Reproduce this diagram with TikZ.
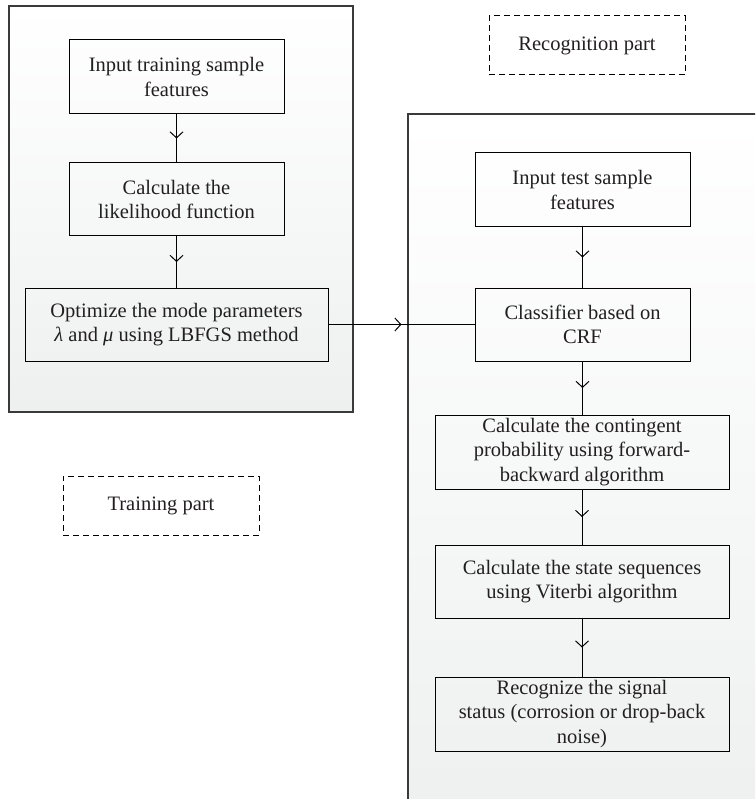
\documentclass[tikz,border=0pt]{standalone}
\usepackage{fontspec}
\setmainfont{Liberation Serif}
\usetikzlibrary{arrows.meta,decorations.markings}
\definecolor{txt}{HTML}{231F20}
\definecolor{frame}{HTML}{3A3A3A}
\definecolor{shade}{HTML}{EEF0F0}
\tikzset{
  stepbox/.style={draw=black,line width=1pt,rectangle,align=center,text=txt,inner sep=2pt,
    font=\fontsize{20.5}{24.5}\selectfont},
  partbox/.style={draw=black,line width=1pt,dash pattern=on 6pt off 4pt,rectangle,align=center,
    text=txt,minimum width=196pt,minimum height=59pt,font=\fontsize{20.5}{24.5}\selectfont},
  flow/.style={draw=black,line width=1pt,postaction={decorate},
    decoration={markings,mark=at position 0.5 with {\arrow{Straight Barb[length=6pt,width=13pt,line width=1pt]}}}},
  panel/.style={draw=frame,line width=1.1pt,top color=white,bottom color=shade}
}
\begin{document}
\begin{tikzpicture}[x=1pt,y=-1pt]
\useasboundingbox (0,0) rectangle (755,799);
\clip (0,0) rectangle (755,799);
% panels
\path[panel] (9,6) rectangle (353,412);
\path[panel] (408,114) rectangle (780,830);
% part labels
\node[partbox] (rec) at (587,45.5) {Recognition part};
\node[partbox] (trn) at (161,505.5) {Training part};
% training steps
\node[stepbox,minimum width=215pt,minimum height=74pt] (t1) at (176.5,77) {Input training sample\\features};
\node[stepbox,minimum width=215pt,minimum height=73pt] (t2) at (176.5,199.5) {Calculate the\\likelihood function};
\node[stepbox,minimum width=303pt,minimum height=73pt] (t3) at (176.5,324.5) {Optimize the mode parameters\\{\itshape λ} and {\itshape μ} using LBFGS method};
% recognition steps
\node[stepbox,minimum width=215pt,minimum height=74pt] (r1) at (582.5,190) {Input test sample\\features};
\node[stepbox,minimum width=215pt,minimum height=73pt] (r2) at (582.5,324.5) {Classifier based on\\CRF};
\node[stepbox,minimum width=294pt,minimum height=74pt] (r3) at (582,452) {Calculate the contingent\\probability using forward-\\backward algorithm};
\node[stepbox,minimum width=294pt,minimum height=73pt] (r4) at (582,581.5) {Calculate the state sequences\\using Viterbi algorithm};
\node[stepbox,minimum width=294pt,minimum height=74pt] (r5) at (582,714) {Recognize the signal\\status (corrosion or drop-back\\noise)};
% connectors
\path[flow] (t1) -- (t2);
\path[flow] (t2) -- (t3);
\path[flow] (t3) -- (r2);
\path[flow] (r1) -- (r2);
\path[flow] (r2.south) -- (r3.north -| r2.south);
\path[flow] (r3) -- (r4);
\path[flow] (r4) -- (r5);
\end{tikzpicture}
\end{document}
